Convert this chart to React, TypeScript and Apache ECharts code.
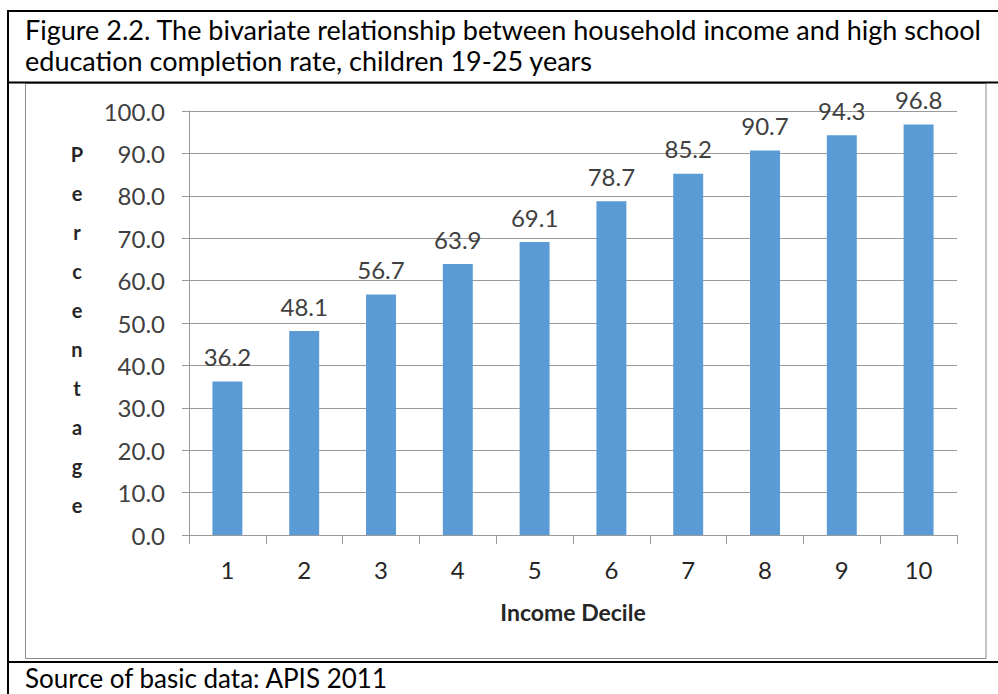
import React, { useEffect, useRef } from "react";
import * as echarts from "echarts";

const categories = ["1", "2", "3", "4", "5", "6", "7", "8", "9", "10"];
const values = [36.2, 48.1, 56.7, 63.9, 69.1, 78.7, 85.2, 90.7, 94.3, 96.8];
const titleLines = [
  "Figure 2.2. The bivariate relationship between household income and high school",
  "education completion rate, children 19-25 years",
];
const yAxisTitle = "Percentage";
const xAxisTitle = "Income Decile";
const sourceText = "Source of basic data: APIS 2011";

const FONT = "Lato, 'Open Sans', sans-serif";

export default function App() {
  const ref = useRef<HTMLDivElement>(null);
  useEffect(() => {
    if (!ref.current) return;
    const chart = echarts.init(ref.current, undefined, { renderer: "svg" });
    chart.setOption({
      animation: false,
      backgroundColor: "#ffffff",
      grid: { left: 189, right: 41, top: 111, bottom: 159, containLabel: false },
      xAxis: {
        type: "category",
        data: categories,
        axisLine: { lineStyle: { color: "#9a9a9a", width: 1 } },
        axisTick: { show: true, length: 9, lineStyle: { color: "#9a9a9a" } },
        axisLabel: { color: "#262626", fontSize: 24, fontFamily: FONT, margin: 22 },
        name: xAxisTitle,
        nameLocation: "middle",
        nameGap: 65,
        nameTextStyle: { color: "#262626", fontSize: 23, fontWeight: "bold", fontFamily: FONT },
      },
      yAxis: {
        type: "value",
        min: 0,
        max: 100,
        interval: 10,
        axisLine: { show: true, lineStyle: { color: "#9a9a9a", width: 1 } },
        axisTick: { show: true, length: 7, lineStyle: { color: "#9a9a9a" } },
        splitLine: { show: true, lineStyle: { color: "#9a9a9a", width: 1 } },
        axisLabel: {
          color: "#404040",
          fontSize: 24,
          fontFamily: FONT,
          margin: 24,
          formatter: (v: number) => v.toFixed(1),
        },
      },
      series: [
        {
          type: "bar",
          data: values,
          barWidth: "39%",
          itemStyle: { color: "#5b9bd5" },
          label: {
            show: true,
            position: "top",
            distance: 13,
            color: "#404040",
            fontSize: 24,
            fontFamily: FONT,
            formatter: (p: any) => Number(p.value).toFixed(1),
          },
        },
      ],
      graphic: [
        // inner chart frame
        {
          type: "rect",
          shape: { x: 25.5, y: 83.5, width: 960.5, height: 575 },
          style: { fill: "none", stroke: "#8c8c8c", lineWidth: 1 },
          z: 1,
        },
        // table borders
        { type: "line", shape: { x1: 8, y1: 11, x2: 998, y2: 11 }, style: { stroke: "#000", lineWidth: 2 }, z: 10 },
        { type: "line", shape: { x1: 8, y1: 10, x2: 8, y2: 694 }, style: { stroke: "#000", lineWidth: 2 }, z: 10 },
        { type: "line", shape: { x1: 8, y1: 82.5, x2: 998, y2: 82.5 }, style: { stroke: "#000", lineWidth: 2 }, z: 10 },
        { type: "line", shape: { x1: 8, y1: 662, x2: 998, y2: 662 }, style: { stroke: "#000", lineWidth: 2 }, z: 10 },
        // title
        {
          type: "text",
          left: 25,
          top: 14,
          style: {
            text: titleLines.join("\n"),
            fontSize: 27,
            lineHeight: 31,
            fontFamily: FONT,
            fill: "#000",
          },
          z: 10,
        },
        // y axis title, stacked letters
        {
          type: "text",
          x: 77,
          y: 134,
          style: {
            text: yAxisTitle.split("").join("\n"),
            fontSize: 20,
            lineHeight: 39,
            fontWeight: "bold",
            fontFamily: FONT,
            fill: "#262626",
            align: "center",
          },
          z: 10,
        },
        // source
        {
          type: "text",
          left: 25,
          top: 665,
          style: { text: sourceText, fontSize: 26, fontFamily: FONT, fill: "#000" },
          z: 10,
        },
      ],
    });
    return () => chart.dispose();
  }, []);
  return (
    <div
      ref={ref}
      style={{ position: "fixed", left: 0, top: 0, width: 998, height: 694, background: "#fff" }}
    />
  );
}
